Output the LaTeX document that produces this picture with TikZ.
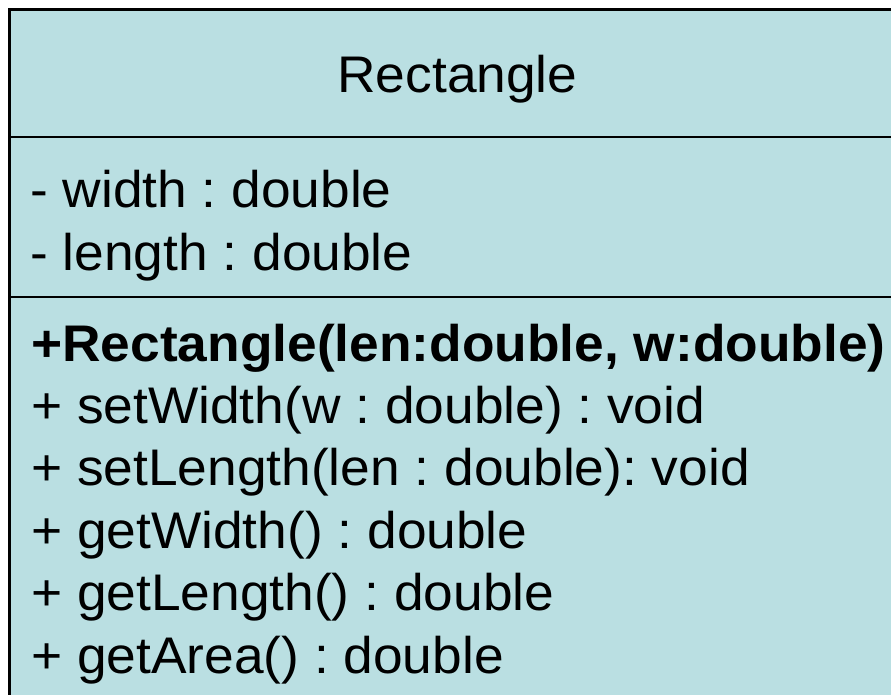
\documentclass[tikz,border=0pt]{standalone}
\usepackage{fontspec}
\setmainfont[FakeStretch=1.035]{Liberation Sans}
\definecolor{classfill}{RGB}{186,223,226}
\frenchspacing
\begin{document}
\begin{tikzpicture}[x=1pt,y=-1pt,
  member/.style={anchor=base west,inner sep=0pt,font=\fontsize{51.5}{60}\selectfont},
  title/.style={anchor=base,inner sep=0pt,font=\fontsize{51.5}{60}\selectfont},
  frame/.style={draw=black,line width=2.6pt},
  divider/.style={draw=black,line width=2.4pt}]
  \useasboundingbox (0,0) rectangle (891,694);
  \clip (0,0) rectangle (891,694);
  % class box, running past the right and lower edges
  \path[frame,fill=classfill] (9.5,9.5) rectangle (905,720);
  \coordinate (dl1) at (9.5,137);
  \coordinate (dr1) at (905,137);
  \coordinate (dl2) at (9.5,297);
  \coordinate (dr2) at (905,297);
  \draw[divider] (dl1) -- (dr1);
  \draw[divider] (dl2) -- (dr2);
  % name compartment
  \node[title] (name) at (457.5,92) {Rectangle};
  % attributes
  \node[member] (attw) at (30,207) {- width : double};
  \node[member] (attl) at (30,270) {- length : double};
  % operations
  \node[member,font=\fontsize{51.5}{60}\selectfont\bfseries] (ctor) at (31,361) {+Rectangle(len:double, w:double)};
  \node[member] (opsw) at (31,423.4) {+ setWidth(w : double) : void};
  \node[member] (opsl) at (31,485.8) {+ setLength(len : double): void};
  \node[member] (opgw) at (31,548.2) {+ getWidth() : double};
  \node[member] (opgl) at (31,610.6) {+ getLength() : double};
  \node[member] (opga) at (31,673) {+ getArea() : double};
\end{tikzpicture}
\end{document}
